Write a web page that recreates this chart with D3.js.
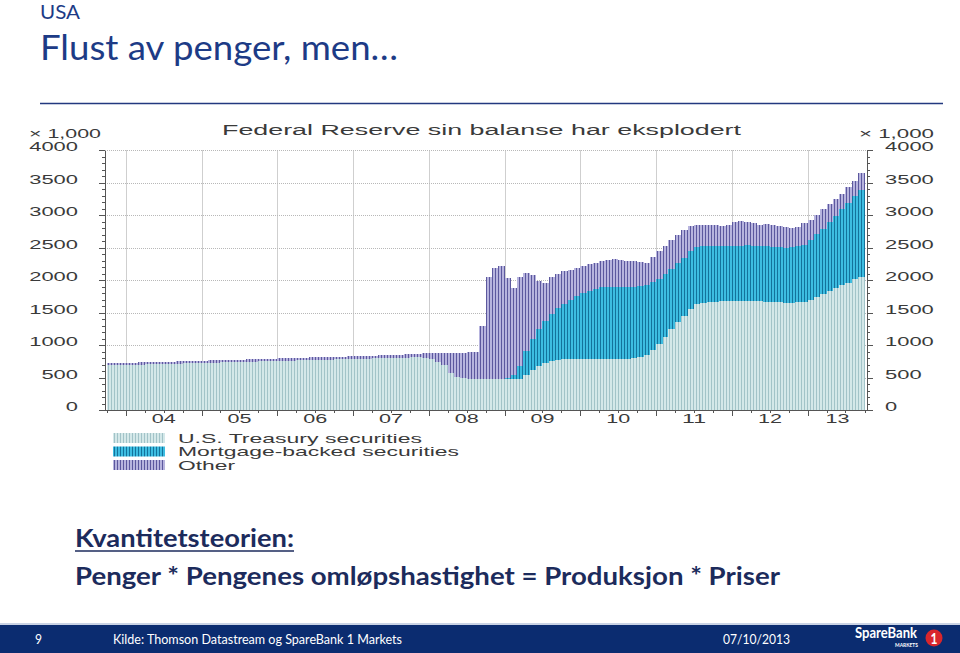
<!DOCTYPE html>
<html>
<head>
<meta charset="UTF-8">
<script src="https://cdn.jsdelivr.net/npm/d3@7"></script>
<style>
body { margin: 0; background: #fff; }
svg { display: block; }
.slide { font-family: Lato, "Open Sans", sans-serif; }
.chart text { font-family: "Liberation Sans", Arial, sans-serif; fill: #3a3a3a; }
.axis path, .axis line { stroke: #555; shape-rendering: crispEdges; }
.hgrid { stroke: #b8b8b8; stroke-dasharray: 1,1; }
.vgrid { stroke: #cfcfcf; shape-rendering: crispEdges; }
.bar { shape-rendering: crispEdges; }
</style>
</head>
<body>
<script>

// monthly values, Oct 2003 .. Sep 2013, USD bn
var treasury = [
  688, 690, 693,
  695, 698, 700, 703, 705, 708, 710, 713, 715, 718, 720, 723,
  725, 728, 730, 733, 735, 738, 740, 743, 745, 748, 750, 753,
  755, 758, 760, 763, 765, 768, 770, 773, 775, 778, 780, 783,
  785, 788, 790, 793, 795, 798, 800, 803, 805, 808, 810, 805,
  790, 745, 700, 570, 510, 485, 480, 479, 478, 477, 476, 476,
  476, 476, 480, 540, 610, 680, 730, 760, 775, 777, 777, 777,
  777, 777, 777, 777, 777, 777, 777, 785, 795, 810, 850, 930,
  1020, 1130, 1240, 1350, 1450, 1560, 1630, 1650, 1660, 1665, 1670, 1672,
  1675, 1680, 1680, 1675, 1670, 1665, 1660, 1655, 1650, 1650, 1655, 1665,
  1700, 1740, 1780, 1830, 1870, 1920, 1960, 2010, 2050
];
var mbs = [
  0, 0, 0,
  0, 0, 0, 0, 0, 0, 0, 0, 0, 0, 0, 0,
  0, 0, 0, 0, 0, 0, 0, 0, 0, 0, 0, 0,
  0, 0, 0, 0, 0, 0, 0, 0, 0, 0, 0, 0,
  0, 0, 0, 0, 0, 0, 0, 0, 0, 0, 0, 0,
  0, 0, 0, 0, 0, 0, 0, 0, 0, 0, 0, 0,
  10, 60, 200, 370, 480, 560, 640, 720, 790, 850, 910, 970,
  1020, 1060, 1090, 1110, 1120, 1120, 1115, 1110, 1105, 1100, 1075, 1040,
  1000, 960, 930, 905, 890, 880, 875, 870, 865, 860, 855, 850,
  850, 850, 855, 855, 860, 860, 855, 850, 850, 855, 865, 880,
  920, 970, 1010, 1060, 1110, 1170, 1220, 1280, 1330
];
var other = [
  30, 29, 31,
  32, 30, 31, 33, 31, 32, 34, 33, 32, 34, 35, 33,
  34, 35, 36, 34, 35, 37, 36, 38, 37, 36, 38, 39,
  38, 40, 39, 41, 40, 42, 41, 43, 42, 44, 43, 45,
  44, 45, 46, 45, 47, 46, 48, 47, 49, 50, 55, 65,
  88, 135, 182, 310, 372, 399, 405, 407, 822, 1573, 1704, 1734,
  1544, 1344, 1360, 1200, 990, 750, 590, 560, 525, 513, 473, 443,
  423, 403, 393, 403, 413, 423, 418, 405, 390, 360, 335, 380,
  430, 440, 450, 445, 430, 390, 345, 320, 325, 315, 305, 328,
  375, 380, 355, 340, 320, 335, 335, 325, 320, 295, 290, 335,
  310, 290, 310, 280, 270, 240, 250, 240, 260
];
var seriesNames = ["U.S. Treasury securities", "Mortgage-backed securities", "Other"];
var yTicks = [0, 500, 1000, 1500, 2000, 2500, 3000, 3500, 4000];
var yearLabels = ["04", "05", "06", "07", "08", "09", "10", "11", "12", "13"];

var width = 960, height = 653;

var months = treasury.map(function(v, i) { return new Date(2003, 9 + i, 1); });
var rows = months.map(function(d, i) {
  return {date: d, treasury: treasury[i], mbs: mbs[i], other: other[i]};
});

var svg = d3.select("body").append("svg")
    .attr("width", width)
    .attr("height", height)
    .attr("class", "slide");

function txt(g, s, x, y, w, size, anchor) {
  return g.append("text")
      .attr("x", x).attr("y", y)
      .attr("font-size", size)
      .attr("text-anchor", anchor || "start")
      .attr("textLength", w)
      .attr("lengthAdjust", "spacingAndGlyphs")
      .text(s);
}

// header
txt(svg, "USA", 40, 19, 40, 19).attr("fill", "#1d3b86");
txt(svg, "Flust av penger, men\u2026", 40, 60, 358, 35).attr("fill", "#1d3b86");
svg.append("line")
    .attr("x1", 40).attr("x2", 943).attr("y1", 103.5).attr("y2", 103.5)
    .attr("stroke", "#23397f").attr("stroke-width", 1.5);

// patterns for the striped bars
var defs = svg.append("defs");
var fills = [
  {id: "pT", base: "#d4e8e9", line: "#a2c3c8"},
  {id: "pM", base: "#3dbde1", line: "#13739c"},
  {id: "pO", base: "#b7b4de", line: "#5c589e"}
];
fills.forEach(function(f) {
  var p = defs.append("pattern")
      .attr("id", f.id)
      .attr("patternUnits", "userSpaceOnUse")
      .attr("width", 3).attr("height", 10);
  p.append("rect").attr("width", 3).attr("height", 10).attr("fill", f.base);
  p.append("rect").attr("width", 1).attr("height", 10).attr("fill", f.line);
});

var chart = svg.append("g").attr("class", "chart");

var x = d3.scaleTime()
    .domain([new Date(2003, 8, 23), new Date(2013, 9, 13)])
    .range([105, 867]);
var y = d3.scaleLinear().domain([0, 4000]).range([410, 150]);

var yearStarts = d3.range(2004, 2014).map(function(yr) { return new Date(yr, 0, 1); });

// grid
chart.selectAll(".vgrid").data(yearStarts).enter().append("line")
    .attr("class", "vgrid")
    .attr("x1", d => Math.round(x(d)) + 0.5).attr("x2", d => Math.round(x(d)) + 0.5)
    .attr("y1", y(4000)).attr("y2", y(0));
chart.selectAll(".hgrid").data(yTicks.slice(1)).enter().append("line")
    .attr("class", "hgrid")
    .attr("x1", 105).attr("x2", 867)
    .attr("y1", d => Math.round(y(d)) + 0.5).attr("y2", d => Math.round(y(d)) + 0.5);

// stacked bars
var stack = d3.stack().keys(["treasury", "mbs", "other"]);
var layers = stack(rows);

chart.selectAll(".layer").data(layers).enter().append("g")
    .attr("class", "layer")
    .attr("fill", (d, i) => "url(#" + fills[i].id + ")")
  .selectAll("rect").data(d => d).enter().append("rect")
    .attr("class", "bar")
    .attr("x", d => x(d.data.date))
    .attr("width", d => x(d3.timeMonth.offset(d.data.date, 1)) - x(d.data.date))
    .attr("y", d => y(d[1]))
    .attr("height", d => y(d[0]) - y(d[1]));

// axes
function digitsWidth(d) { return String(d).length * 12.2; }
var fmt = d3.format("d");

chart.append("g").attr("class", "axis")
    .attr("transform", "translate(105,0)")
    .call(d3.axisLeft(y).tickValues(d3.range(0, 4001, 100)).tickSize(3).tickSizeOuter(0).tickFormat(""));
chart.append("g").attr("class", "axis")
    .attr("transform", "translate(105,0)")
    .call(d3.axisLeft(y).tickValues(yTicks).tickSize(6).tickSizeOuter(0).tickPadding(21).tickFormat(fmt))
    .call(g => g.selectAll(".tick text")
        .attr("font-size", 12).attr("dy", "0.05em")
        .attr("textLength", digitsWidth).attr("lengthAdjust", "spacingAndGlyphs"));

chart.append("g").attr("class", "axis")
    .attr("transform", "translate(867,0)")
    .call(d3.axisRight(y).tickValues(d3.range(0, 4001, 100)).tickSize(3).tickSizeOuter(0).tickFormat(""));
chart.append("g").attr("class", "axis")
    .attr("transform", "translate(867,0)")
    .call(d3.axisRight(y).tickValues(yTicks).tickSize(6).tickSizeOuter(0).tickPadding(12).tickFormat(fmt))
    .call(g => g.selectAll(".tick text")
        .attr("font-size", 12).attr("dy", "0.05em")
        .attr("textLength", digitsWidth).attr("lengthAdjust", "spacingAndGlyphs"));

var quarters = d3.timeMonth.every(3).range(new Date(2003, 9, 1), new Date(2013, 9, 13));
chart.append("g").attr("class", "axis")
    .attr("transform", "translate(0,410)")
    .call(d3.axisBottom(x).tickValues(quarters).tickSize(3).tickSizeOuter(0).tickFormat(""));
chart.append("g").attr("class", "axis")
    .attr("transform", "translate(0,410)")
    .call(d3.axisBottom(x).tickValues(yearStarts).tickSize(6).tickSizeOuter(0).tickFormat(""));

var xLo = x.domain()[0], xHi = x.domain()[1];
yearLabels.forEach(function(s, i) {
  var a = new Date(2004 + i, 0, 1), b = new Date(2005 + i, 0, 1);
  var cx = (x(a < xLo ? xLo : a) + x(b > xHi ? xHi : b)) / 2;
  txt(chart, s, cx, 423, 24, 12, "middle");
});

// chart titles
txt(chart, "Federal Reserve sin balanse har eksplodert", 222, 135, 519, 14);
txt(chart, "\u00d7 1,000", 29, 138, 72, 12);
txt(chart, "\u00d7 1,000", 859, 138, 75, 12);

// legend
var legend = chart.append("g");
seriesNames.forEach(function(s, i) {
  var ly = 433 + i * 13.5;
  legend.append("rect")
      .attr("x", 113).attr("y", ly).attr("width", 52).attr("height", 10)
      .attr("fill", "url(#" + fills[i].id + ")");
  txt(legend, s, 178, ly + 9.5, [244, 281, 57][i], 13);
});

// statement text
var bottom = svg.append("g").attr("fill", "#1c2b5c").attr("font-weight", "bold");
txt(bottom, "Kvantitetsteorien:", 75, 547, 219, 25);
bottom.append("line")
    .attr("x1", 75).attr("x2", 294).attr("y1", 551).attr("y2", 551)
    .attr("stroke", "#1c2b5c").attr("stroke-width", 1.6);
txt(bottom, "Penger * Pengenes oml\u00f8pshastighet = Produksjon * Priser", 75, 585, 705, 25);

// footer
svg.append("line")
    .attr("x1", 0).attr("x2", width).attr("y1", 624).attr("y2", 624)
    .attr("stroke", "#b9c4dc").attr("stroke-width", 1.5);
svg.append("rect")
    .attr("x", 0).attr("y", 625).attr("width", width).attr("height", 28)
    .attr("fill", "#0b2c70");
var foot = svg.append("g").attr("fill", "#fff");
txt(foot, "9", 35, 644, 7, 14);
txt(foot, "Kilde: Thomson Datastream og SpareBank 1 Markets", 113, 644, 289, 14);
txt(foot, "07/10/2013", 723, 644, 67, 14);
txt(foot, "SpareBank", 855, 638, 62, 15).attr("font-weight", "bold");
txt(foot, "MARKETS", 895, 647, 23, 6).attr("font-weight", "bold");
foot.append("circle").attr("cx", 934).attr("cy", 638).attr("r", 8.5).attr("fill", "#d9262c");
txt(foot, "1", 934, 644, 7, 16, "middle").attr("font-weight", "bold");

</script>
</body>
</html>
